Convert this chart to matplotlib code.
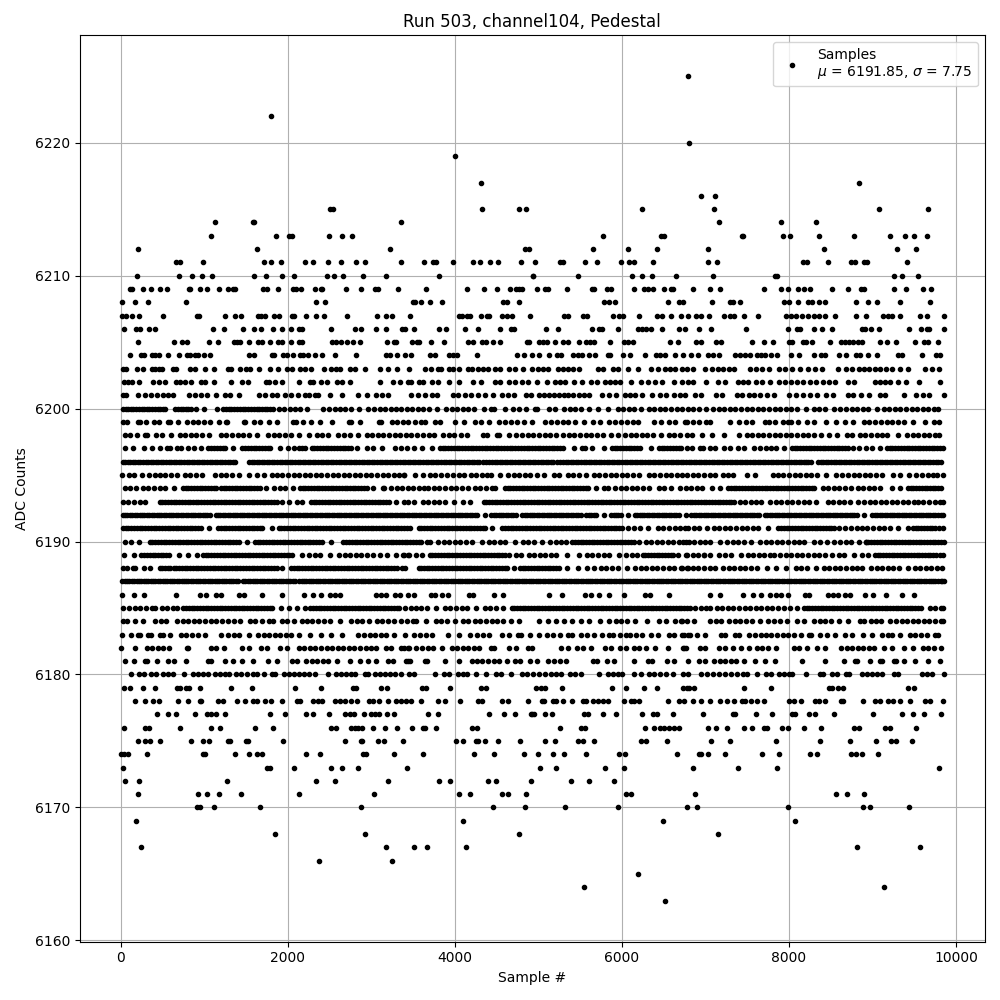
import numpy as np
import matplotlib
matplotlib.use("Agg")
import matplotlib.pyplot as plt

# Muestras, una lista por nivel de ADC
adc_6225 = [6792]
adc_6222 = [1796]
adc_6220 = [6804]
adc_6219 = [4004]
adc_6217 = [4316, 8844]
adc_6216 = [6948, 7116]
adc_6215 = [2500, 2540, 4328, 4772, 4856, 6240, 7104, 9084, 9660]
adc_6214 = [1124, 1580, 1600, 3356, 7164, 7908, 8328]
adc_6213 = [1076, 1856, 2012, 2044, 2492, 2648, 2768, 5772, 6468, 6500, 7440, 7452, 7932, 8016, 8364, 8784, 9216, 9384, 9492, 9648]
adc_6212 = [200, 1628, 3224, 4840, 4892, 5652, 6072, 6420, 7032, 8424, 9300, 9516]
adc_6211 = [660, 712, 980, 1712, 1796, 1916, 2204, 2300, 2480, 2636, 2816, 2924, 3356, 3632, 3740, 3776, 3980, 4220, 4304, 4424, 4520, 4796, 4964,
            5256, 5292, 5556, 5700, 5988, 6084, 6144, 6372, 7032, 7140, 8172, 8220, 8472, 8748, 8796, 8904, 8940, 9408]
adc_6210 = [188, 692, 848, 968, 1088, 1592, 1736, 1928, 2072, 2468, 2552, 2660, 2900, 3176, 3812, 4932, 4940, 5472, 6120, 6240, 6360, 6648, 7092,
            7836, 7860, 9264, 9348, 9540]
adc_6209 = [108, 140, 260, 356, 464, 548, 812, 828, 944, 1028, 1172, 1280, 1340, 1364, 1700, 1748, 1880, 2060, 2092, 2156, 2324, 2396, 2412, 2696,
            2876, 3044, 3084, 3320, 3656, 4148, 4352, 4508, 4664, 4736, 4772, 4808, 4980, 5076, 5112, 5340, 5640, 5664, 5820, 5868, 6144, 6264,
            6312, 6372, 6504, 6588, 6612, 6852, 7056, 7176, 7704, 7908, 7992, 8112, 8184, 8256, 8520, 8712, 8868, 8904, 9264, 9396, 9600, 9696]
adc_6208 = [20, 172, 320, 776, 2336, 2444, 3500, 3524, 3596, 3704, 3848, 4580, 4620, 4772, 5784, 5844, 5916, 6552, 6684, 6732, 7080, 7296, 7332,
            7416, 7944, 8004, 8104, 8232, 8276, 8364, 8436, 8808, 8952, 9060, 9324, 9684]
adc_6207 = [20, 60, 140, 212, 500, 908, 932, 1244, 1364, 1436, 1640, 1680, 1732, 1832, 1892, 2048, 2072, 2212, 2336, 2432, 2708, 3068, 3176, 3248,
            3464, 4052, 4080, 4148, 4180, 4316, 4388, 4412, 4568, 4620, 4688, 4904, 5304, 5352, 5532, 5580, 5892, 5964, 6012, 6204, 6420, 6480,
            6588, 6708, 6792, 6888, 6948, 7044, 7224, 7296, 7344, 7464, 7632, 7968, 8028, 8088, 8160, 8232, 8304, 8364, 8436, 8556, 8808, 8924,
            9132, 9192, 9232, 9324, 9564, 9648, 9852]
adc_6206 = [40, 180, 228, 332, 404, 1100, 1232, 1460, 1592, 1676, 1820, 1928, 2036, 2132, 2168, 2516, 2804, 2876, 3056, 3176, 3368, 3404, 3512,
            3812, 3896, 4124, 4280, 4544, 4676, 4712, 5088, 5232, 5640, 5724, 5760, 5952, 6192, 6240, 6288, 6348, 6480, 6684, 6756, 6924, 7068,
            7488, 7992, 8100, 8136, 8304, 8400, 8520, 8880, 8916, 8988, 9084, 9432, 9576, 9648, 9672, 9852]
adc_6205 = [200, 632, 728, 788, 1052, 1160, 1352, 1388, 1424, 1532, 1640, 1688, 1784, 1880, 1928, 2036, 2132, 2168, 2528, 2580, 2636, 2708, 2780,
            2864, 3188, 3272, 3296, 3488, 3548, 3572, 3716, 3868, 4160, 4220, 4328, 4376, 4460, 4544, 4860, 4892, 5004, 5052, 5100, 5196, 5292,
            5352, 5484, 5568, 5616, 5664, 5856, 6024, 6072, 6132, 6576, 6672, 6888, 6948, 7128, 7188, 7560, 7704, 7812, 8004, 8040, 8172, 8208,
            8280, 8496, 8628, 8676, 8724, 8772, 8832, 8880, 9096, 9180, 9288, 9504, 9612, 9660, 9780]
adc_6204 = [108, 236, 272, 368, 404, 452, 560, 692, 788, 824, 884, 920, 992, 1064, 1532, 1592, 1808, 1832, 1940, 1988, 2060, 2144, 2180, 2240, 2324,
            2408, 2564, 2816, 3176, 3224, 3308, 3404, 3476, 3704, 3768, 3932, 3980, 4020, 4268, 4748, 4832, 4928, 5004, 5124, 5220, 5268, 5412,
            5472, 5520, 5604, 5676, 5832, 5856, 6012, 6096, 6276, 6408, 6456, 6516, 6636, 6732, 6828, 6912, 7032, 7092, 7164, 7356, 7416, 7476,
            7536, 7620, 7668, 7716, 7788, 7860, 8028, 8124, 8304, 8388, 8436, 8604, 8688, 8808, 8856, 8952, 9060, 9312, 9348, 9588, 9756, 9804]
adc_6203 = [32, 68, 188, 260, 368, 404, 452, 488, 620, 656, 824, 884, 1004, 1112, 1280, 1316, 1424, 1496, 1544, 1652, 1784, 1880, 1988, 2048, 2144,
            2204, 2276, 2432, 2516, 2576, 2624, 2744, 2804, 2924, 3104, 3200, 3308, 3452, 3644, 3716, 3800, 3836, 3932, 3980, 4052, 4160, 4200,
            4280, 4340, 4400, 4480, 4540, 4652, 4724, 4820, 4928, 4992, 5052, 5112, 5232, 5292, 5352, 5412, 5484, 5712, 5772, 5892, 5952, 6072,
            6192, 6348, 6432, 6516, 6576, 6636, 6720, 6780, 6852, 6996, 7080, 7152, 7212, 7284, 7344, 7536, 7608, 7680, 7764, 7884, 7956, 8040,
            8136, 8232, 8316, 8400, 8592, 8688, 8760, 8844, 8904, 8964, 9036, 9096, 9168, 9240, 9324, 9420, 9624, 9708, 9792]
adc_6202 = [44, 92, 140, 212, 380, 452, 524, 656, 708, 764, 836, 956, 1004, 1112, 1316, 1448, 1520, 1736, 1772, 1844, 1928, 2132, 2264, 2300, 2396,
            2468, 2588, 2648, 2744, 3104, 3260, 3344, 3440, 3476, 3572, 3620, 3728, 3800, 3932, 4052, 4220, 4316, 4484, 4540, 4652, 4724, 4808,
            4880, 4980, 5100, 5196, 5256, 5316, 5424, 5520, 5628, 5700, 5796, 5856, 5916, 5976, 6108, 6228, 6312, 6396, 6480, 6624, 6720, 6792,
            6852, 7012, 7152, 7236, 7392, 7452, 7512, 7608, 7680, 7776, 7884, 7956, 8028, 8100, 8172, 8256, 8328, 8412, 8484, 8556, 8712, 8784,
            9036, 9096, 9156, 9216, 9312, 9396, 9552, 9804]
adc_6201 = [32, 68, 200, 284, 356, 428, 500, 560, 620, 812, 884, 956, 1028, 1136, 1244, 1304, 1412, 1652, 1724, 1808, 1868, 1964, 2036, 2120, 2204,
            2252, 2324, 2360, 2504, 2648, 2840, 2948, 3056, 3128, 3200, 3476, 3560, 3644, 3728, 3788, 3980, 4040, 4124, 4196, 4280, 4364, 4460,
            4568, 4640, 4712, 4852, 4908, 5004, 5064, 5124, 5184, 5244, 5304, 5352, 5412, 5484, 5544, 5604, 5760, 5844, 5928, 6036, 6096, 6156,
            6240, 6360, 6456, 6528, 6624, 6696, 6756, 6876, 6948, 7128, 7200, 7380, 7440, 7524, 7584, 7656, 7740, 7824, 8004, 8088, 8172, 8256,
            8340, 8448, 8532, 8712, 8772, 8868, 8964, 9096, 9156, 9372, 9516, 9600, 9672, 9852]
adc_6200 = [25, 58, 90, 120, 150, 182, 215, 248, 280, 310, 340, 375, 410, 440, 470, 502, 535, 645, 680, 715, 748, 780, 810, 840, 895, 995, 1150, 1225, 1258, 1290, 1325, 1360, 1392, 1425, 1458, 1490, 1525, 1560, 1592, 1625, 1658, 1690, 1722, 1755, 1790, 1825,
            1890, 1950, 2020, 2085, 2150, 2235, 2425, 2490, 2560, 2625, 2690, 2760, 2855, 2965, 3030, 3100, 3165, 3230, 3295, 3360, 3430, 3490, 3560,
            3620, 3690, 3785, 3895, 3960, 4030, 4095, 4160, 4230, 4345, 4435, 4465, 4596, 4700, 4765, 4852, 4960, 4985, 5130, 5195, 5310, 5375, 5440,
            5510, 5605, 5710, 5835, 5950, 6015, 6085, 6150, 6225, 6325, 6390, 6455, 6520, 6590, 6660, 6725, 6790, 6855, 6925, 7005, 7095, 7160, 7225,
            7295, 7360, 7430, 7495, 7560, 7630, 7695, 7760, 7830, 7895, 7960, 8030, 8095, 8200, 8295, 8360, 8430, 8540, 8615, 8680, 8750, 8815, 8885,
            8950, 9060, 9135, 9200, 9270, 9335, 9400, 9470, 9535, 9600, 9670, 9735, 9780]
adc_6199 = [25, 75, 200, 225, 305, 400, 455, 565, 595, 680, 790, 860, 930, 1000, 1070, 1170, 1255, 1275, 1470, 1490, 1600, 1665, 1770, 1865, 2060, 2095,
            2180, 2280, 2388, 2532, 2735, 2760, 2860, 3090, 3115, 3250, 3310, 3375, 3440, 3520, 3590, 3645, 3760, 3825, 4000, 4110, 4240, 4315, 4404,
            4530, 4600, 4670, 4745, 4830, 4925, 5080, 5150, 5220, 5290, 5360, 5435, 5545, 5650, 5735, 5850, 5920, 5995, 6060, 6130, 6195, 6380, 6465,
            6560, 6635, 6760, 6785, 6850, 6920, 7005, 7060, 7295, 7400, 7485, 7560, 7715, 7760, 7828, 7925, 7990, 8030, 8108, 8215, 8300, 8448, 8565,
            8670, 8768, 8895, 8960, 9030, 9100, 9170, 9240, 9310, 9380, 9480, 9628, 9735, 9800]
adc_6198 = [45, 115, 195, 285, 315, 425, 490, 600, 705, 770, 840, 905, 975, 1055, 1200, 1265, 1330, 1400, 1465, 1535, 1635, 1765, 1830, 1900, 1965, 2035,
            2135, 2250, 2345, 2410, 2475, 2605, 2670, 2740, 2835, 2945, 3010, 3075, 3145, 3210, 3280, 3345, 3410, 3480, 3550, 3620, 3685, 3755, 3860,
            3925, 3995, 4070, 4140, 4340, 4385, 4510, 4525, 4645, 4735, 4805, 4870, 4940, 5010, 5075, 5145, 5205, 5300, 5365, 5430, 5500, 5565, 5635,
            5700, 5770, 5865, 5952, 6040, 6105, 6170, 6240, 6305, 6370, 6465, 6560, 6625, 6695, 6785, 6840, 6955, 7080, 7225, 7400, 7495, 7560, 7625,
            7695, 7760, 7830, 7895, 7965, 8030, 8095, 8165, 8230, 8295, 8380, 8475, 8570, 8695, 8750, 8850, 8915, 8980, 9050, 9115, 9180, 9310, 9415,
            9480, 9550, 9615, 9680, 9750, 9800]
adc_6197 = [45, 145, 280, 375, 475, 555, 595, 675, 715, 810, 880, 955, 1050, 1115, 1185, 1250, 1345, 1455, 1520, 1590, 1655, 1725, 1790, 1905, 2005, 2075,
            2135, 2200, 2285, 2350, 2420, 2485, 2555, 2620, 2690, 2755, 2825, 2950, 3020, 3130, 3285, 3350, 3430, 3510, 3605, 3725, 3820, 3885, 3950,
            4020, 4085, 4155, 4220, 4290, 4355, 4420, 4490, 4555, 4625, 4690, 4755, 4825, 4890, 4960, 5025, 5090, 5160, 5225, 5295, 5425, 5520, 5555,
            5640, 5785, 5880, 5945, 6010, 6080, 6145, 6215, 6345, 6445, 6510, 6575, 6645, 6710, 6785, 6840, 6935, 6975, 7055, 7110, 7225, 7290, 7390,
            7460, 7585, 7650, 7720, 7785, 7850, 7940, 8035, 8100, 8165, 8235, 8300, 8370, 8435, 8505, 8570, 8635, 8705, 8770, 8840, 8920, 8995, 9095,
            9175, 9240, 9310, 9375, 9440, 9510, 9575, 9640, 9710, 9775, 9845,
            1082, 1150, 1218, 1488, 1555, 1622, 1690, 1758, 2168, 2318, 2385, 2452, 2520, 2588, 2655, 2722, 3852, 3918, 3985, 4052, 4120, 4188, 4255, 4322, 4388, 4455,
            4522, 4590, 4658, 4722, 4790, 4858, 4925, 4992, 5058, 5125, 5192, 5260, 5912, 5978, 6045, 6112, 6180, 6478, 6542, 6610, 6678, 8068, 8132, 8200, 8268, 8335,
            8402, 8470, 8538, 8602, 8670, 9208, 9275, 9342, 9408, 9475, 9542, 9608, 9675, 9742, 9810]
adc_6196 = [25, 85, 145, 205, 265, 330, 390, 450, 510, 575, 635, 695, 755, 820, 880, 940, 1000, 1065, 1125, 1185, 1245, 1310, 1370, 1535, 1595, 1660, 1720,
            1780, 1840, 1905, 1965, 2025, 2085, 2150, 2210, 2270, 2330, 2395, 2455, 2515, 2575, 2640, 2700, 2760, 2820, 2885, 2945, 3005, 3065, 3130,
            3190, 3250, 3310, 3375, 3435, 3495, 3555, 3620, 3680, 3740, 3800, 3865, 3925, 3985, 4045, 4110, 4170, 4230, 4290, 4375, 4445, 4505, 4570,
            4630, 4690, 4750, 4815, 4875, 4935, 4995, 5060, 5120, 5180, 5255, 5330, 5390, 5450, 5510, 5575, 5635, 5695, 5755, 5820, 5880, 5940, 6000,
            6065, 6125, 6185, 6245, 6310, 6370, 6430, 6490, 6555, 6615, 6675, 6735, 6800, 6860, 6920, 6980, 7045, 7105, 7165, 7225, 7290, 7350, 7410,
            7470, 7535, 7595, 7655, 7715, 7780, 7840, 7900, 7960, 8025, 8085, 8145, 8205, 8260, 8350, 8410, 8470, 8535, 8595, 8655, 8715, 8780, 8840,
            8900, 8960, 9025, 9085, 9145, 9205, 9270, 9330, 9390, 9450, 9515, 9575, 9635, 9695, 9760, 9820,
            55, 115, 175, 235, 298, 360, 420, 480, 542, 605, 665, 725, 788, 850, 910, 970, 1032, 1095, 1155, 1215, 1278, 1340, 1565, 1628, 1690, 1750, 1810, 1872, 1935,
            1995, 2055, 2118, 2180, 2240, 2300, 2362, 2425, 2485, 2545, 2608, 2670, 2730, 2790, 2852, 2915, 2975, 3035, 3098, 3160, 3220, 3280, 3342, 3405, 3465, 3525,
            3588, 3650, 3710, 3770, 3832, 3895, 3955, 4015, 4078, 4140, 4200, 4260, 4332, 4410, 4475, 4538, 4600, 4660, 4720, 4782, 4845, 4905, 4965, 5028, 5090, 5150,
            5218, 5292, 5360, 5420, 5480, 5542, 5605, 5665, 5725, 5788, 5850, 5910, 5970, 6032, 6095, 6155, 6215, 6278, 6340, 6400, 6460, 6522, 6585, 6645, 6705, 6768,
            6830, 6890, 6950, 7012, 7075, 7135, 7195, 7258, 7320, 7380, 7440, 7502, 7565, 7625, 7685, 7748, 7810, 7870, 7930, 7992, 8055, 8115, 8175, 8232, 8380, 8440,
            8502, 8565, 8625, 8685, 8748, 8810, 8870, 8930, 8992, 9055, 9115, 9175, 9238, 9300, 9360, 9420, 9482, 9545, 9605, 9665, 9728, 9790]
adc_6195 = [10, 95, 155, 250, 335, 405, 470, 535, 600, 670, 765, 830, 900, 975, 1130, 1195, 1260, 1330, 1410, 1535, 1635, 1712, 1805, 1870, 1935, 2005, 2070,
            2135, 2200, 2270, 2335, 2400, 2470, 2535, 2600, 2670, 2735, 2800, 2870, 2935, 3000, 3070, 3135, 3200, 3270, 3335, 3395, 3390, 3522, 3624, 3700,
            3765, 3830, 3900, 3975, 4050, 4105, 4190, 4255, 4320, 4390, 4435, 4538, 4640, 4705, 4770, 4840, 4905, 4985, 5072, 5190, 5245, 5350, 5415, 5485,
            5572, 5665, 5730, 5800, 5865, 5930, 6000, 6065, 6130, 6205, 6325, 6390, 6455, 6525, 6590, 6655, 6725, 6785, 6850, 6915, 6985, 7050, 7120, 7205,
            7270, 7335, 7495, 7590, 7805, 7870, 7935, 8005, 8070, 8135, 8205, 8270, 8335, 8440, 8565, 8630, 8710, 8775, 8840, 8910, 8975, 9040, 9110, 9248,
            9335, 9440, 9525, 9590, 9660, 9725, 9775, 9845]
adc_6194 = [45, 110, 185, 265, 330, 395, 465, 530, 635, 745, 810, 880, 945, 1010, 1080, 1145, 1195, 1265, 1330, 1395, 1465, 1530, 1595, 1665, 1735, 1840, 1905,
            1970, 2065, 2145, 2210, 2280, 2345, 2410, 2480, 2545, 2610, 2680, 2745, 2810, 2880, 2945, 3025, 3140, 3155, 3240, 3305, 3370, 3435, 3500, 3565,
            3635, 3675, 3750, 3815, 3885, 3950, 4015, 4085, 4155, 4240, 4305, 4370, 4440, 4485, 4600, 4665, 4730, 4800, 4865, 4930, 5000, 5065, 5130, 5200,
            5265, 5330, 5400, 5465, 5530, 5600, 5685, 5780, 5835, 5920, 5985, 6050, 6120, 6185, 6250, 6325, 6440, 6505, 6585, 6700, 6765, 6830, 6900, 6960,
            7075, 7175, 7275, 7340, 7405, 7475, 7540, 7605, 7675, 7740, 7805, 7875, 7940, 8005, 8075, 8140, 8205, 8275, 8300, 8405, 8470, 8540, 8605, 8670,
            8740, 8825, 8890, 8955, 9020, 9090, 9240, 9335, 9425, 9490, 9555, 9625, 9690, 9755, 9825,
            778, 845, 912, 978, 1045, 1112, 1230, 1298, 1362, 1430, 1498, 1562, 1630, 2178, 2245, 2312, 2378, 2445, 2512, 2578, 2645, 2712, 2778, 2845, 2912, 4632, 4698,
            4765, 4832, 4898, 4965, 5032, 5098, 5165, 5232, 5298, 5365, 5432, 5498, 5565, 7308, 7372, 7440, 7508, 7572, 7640, 7708, 7772, 7840, 7908, 7972, 8040, 8108, 8172,
            8240, 9462, 9522, 9590, 9658, 9722, 9790]
adc_6193 = [25, 90, 160, 225, 295, 465, 530, 600, 665, 730, 800, 865, 930, 1000, 1065, 1130, 1200, 1265, 1330, 1400, 1465, 1530, 1600, 1665, 1730, 1800, 1865, 1930,
            2015, 2105, 2165, 2275, 2340, 2410, 2475, 2540, 2610, 2675, 2740, 2810, 2875, 2940, 3010, 3075, 3140, 3210, 3295, 3385, 3440, 3510, 3615, 3680, 3750,
            3815, 3880, 3995, 4095, 4180, 4345, 4410, 4475, 4545, 4610, 4675, 4745, 4810, 4875, 4945, 5010, 5075, 5145, 5210, 5275, 5345, 5410, 5475, 5545, 5610,
            5675, 5745, 5810, 5875, 5945, 6010, 6075, 6145, 6210, 6275, 6345, 6410, 6475, 6545, 6610, 6675, 6745, 6810, 6880, 6945, 7010, 7080, 7145, 7210, 7280,
            7345, 7410, 7480, 7545, 7610, 7665, 7775, 7840, 7905, 7975, 8040, 8105, 8175, 8240, 8320, 8465, 8530, 8600, 8665, 8730, 8825, 8900, 8965, 9030, 9100,
            9165, 9230, 9300, 9365, 9430, 9500, 9545, 9610, 9680, 9745, 9810, 9850,
            498, 565, 632, 698, 765, 832, 898, 965, 1032, 1098, 1165, 1232, 1298, 1365, 1432, 1498, 1565, 1632, 1698, 1765, 1832, 2308, 2375, 2442, 2508, 2575, 2642, 2708,
            2775, 2842, 2908, 2975, 3042, 3108, 3175, 4378, 4442, 4510, 4578, 4642, 4710, 4778, 4842, 4910, 4978, 5042, 5110, 5178, 5242, 5310, 5378, 5442, 5510, 5578, 5642,
            5710, 5778, 5842, 5910, 5978, 6042, 6110, 6178, 6242, 6310, 6378, 6442, 6510, 6578, 6642, 6710, 6778, 6845, 6912, 6978, 7045, 7112, 7178, 7245, 7312]
adc_6192 = [25, 80, 140, 195, 255, 310, 370, 430, 485, 545, 600, 660, 720, 775, 835, 890, 950, 1010, 1065, 1135, 1190, 1250, 1310, 1365, 1425, 1480, 1540, 1600, 1655,
            1715, 1770, 1830, 1890, 1945, 2005, 2060, 2120, 2180, 2235, 2295, 2350, 2410, 2470, 2525, 2585, 2640, 2700, 2760, 2815, 2875, 2930, 2990, 3050, 3105,
            3165, 3220, 3280, 3340, 3395, 3455, 3510, 3570, 3630, 3685, 3745, 3800, 3860, 3920, 3975, 4035, 4090, 4150, 4210, 4265, 4365, 4435, 4495, 4555, 4610,
            4670, 4730, 4805, 4865, 4925, 4980, 5040, 5100, 5155, 5215, 5270, 5330, 5390, 5445, 5505, 5575, 5635, 5695, 5785, 5870, 5930, 5985, 6075, 6155, 6215,
            6270, 6330, 6390, 6445, 6505, 6560, 6620, 6680, 6765, 6830, 6890, 6950, 7005, 7065, 7120, 7180, 7240, 7295, 7355, 7410, 7470, 7530, 7585, 7640, 7710,
            7770, 7830, 7885, 7945, 8000, 8060, 8120, 8175, 8235, 8290, 8350, 8410, 8465, 8525, 8580, 8640, 8700, 8755, 8815, 8900, 9000, 9060, 9115, 9175, 9235,
            9290, 9350, 9405, 9465, 9525, 9580, 9640, 9695, 9755, 9815, 9850,
            52, 110, 168, 225, 282, 340, 400, 458, 515, 572, 630, 690, 748, 805, 862, 920, 980, 1038, 1162, 1220, 1280, 1338, 1395, 1452, 1510, 1570, 1628, 1685, 1742, 1800, 1860,
            1918, 1975, 2032, 2090, 2150, 2208, 2265, 2322, 2380, 2440, 2498, 2555, 2612, 2670, 2730, 2788, 2845, 2902, 2960, 3020, 3078, 3135, 3192, 3250, 3310, 3368, 3425,
            3482, 3540, 3600, 3658, 3715, 3772, 3830, 3890, 3948, 4005, 4062, 4120, 4180, 4238, 4465, 4525, 4582, 4640, 4700, 4835, 4895, 4952, 5010, 5070, 5128, 5185, 5242,
            5300, 5360, 5418, 5475, 5605, 5665, 5900, 5958, 6185, 6242, 6300, 6360, 6418, 6475, 6532, 6590, 6650, 6860, 6920, 6978, 7035, 7092, 7150, 7210, 7268, 7325, 7382,
            7440, 7500, 7558, 7612, 7740, 7800, 7858, 7915, 7972, 8030, 8090, 8148, 8205, 8262, 8320, 8380, 8438, 8495, 8552, 8610, 8670, 8728, 8785, 9030, 9088, 9145, 9205,
            9262, 9320, 9378, 9435, 9495, 9552, 9610, 9668, 9725, 9785]
adc_6191 = [25, 90, 160, 225, 290, 360, 425, 490, 560, 625, 690, 760, 825, 890, 960, 1055, 1165, 1230, 1295, 1365, 1430, 1495, 1565, 1630, 1695, 1815, 1890, 1955, 2025,
            2090, 2155, 2225, 2290, 2355, 2425, 2490, 2555, 2625, 2690, 2755, 2825, 2890, 2955, 3025, 3090, 3155, 3225, 3290, 3355, 3425, 3460, 3565, 3630, 3700, 3765,
            3830, 3900, 3965, 4030, 4100, 4165, 4230, 4300, 4365, 4445, 4570, 4635, 4700, 4770, 4835, 4900, 4970, 5035, 5100, 5170, 5235, 5300, 5370, 5435, 5500, 5570,
            5635, 5700, 5770, 5835, 5900, 5970, 6075, 6145, 6220, 6315, 6430, 6495, 6560, 6630, 6695, 6760, 6790, 6860, 6925, 7015, 7100, 7165, 7235, 7300, 7365, 7435,
            7500, 7565, 7635, 7750, 7875, 7940, 8005, 8075, 8140, 8205, 8275, 8340, 8405, 8475, 8540, 8595, 8675, 8740, 8810, 8875, 8940, 9010, 9075, 9140, 9210, 9310,
            9420, 9485, 9550, 9620, 9685, 9750, 9840,
            58, 125, 192, 258, 325, 392, 458, 525, 592, 658, 725, 792, 858, 925, 1198, 1262, 1330, 1398, 1462, 1530, 1598, 1662, 1922, 1990, 2058, 2122, 2190, 2258, 2322, 2390,
            2458, 2522, 2590, 2658, 2722, 2790, 2858, 2922, 2990, 3058, 3122, 3190, 3258, 3322, 3390, 3598, 3665, 3732, 3798, 3865, 3932, 3998, 4065, 4132, 4198, 4265, 4332,
            4602, 4668, 4735, 4802, 4868, 4935, 5002, 5068, 5135, 5202, 5268, 5335, 5402, 5468, 5535, 5602, 5668, 5735, 5802, 5868, 5935, 6002, 7908, 7972, 8040, 8108, 8172, 8240,
            8308, 8372, 8440, 8508, 9518, 9585, 9652, 9718, 9795]
adc_6190 = [55, 125, 215, 345, 410, 480, 545, 610, 680, 745, 810, 880, 945, 1010, 1080, 1145, 1210, 1280, 1345, 1410, 1515, 1605, 1670, 1740, 1805, 1870, 1940, 2005, 2070,
            2140, 2205, 2270, 2340, 2405, 2515, 2665, 2730, 2800, 2865, 2930, 3000, 3065, 3130, 3200, 3265, 3330, 3400, 3465, 3530, 3600, 3665, 3705, 3800, 3865, 3930, 4000,
            4065, 4130, 4200, 4325, 4405, 4470, 4535, 4605, 4725, 4810, 4875, 4945, 5045, 5140, 5205, 5275, 5325, 5405, 5470, 5540, 5605, 5670, 5740, 5805, 5870, 5940, 6005,
            6070, 6140, 6205, 6285, 6350, 6415, 6485, 6550, 6615, 6685, 6765, 6735, 6800, 6865, 6935, 7000, 7060, 7172, 7260, 7325, 7395, 7460, 7540, 7655, 7720, 7785, 7855,
            7920, 7985, 8055, 8120, 8180, 8305, 8370, 8460, 8545, 8610, 8680, 8745, 8840, 8920, 8985, 9055, 9120, 9185, 9255, 9320, 9385, 9455, 9520, 9585, 9655, 9720, 9785, 9855,
            378, 445, 512, 578, 645, 712, 778, 845, 912, 978, 1045, 1112, 1178, 1245, 1312, 1378, 1638, 1705, 1772, 1838, 1905, 1972, 2038, 2105, 2172, 2238, 2305, 2372, 2698, 2765,
            2832, 2898, 2965, 3032, 3098, 3165, 3232, 3298, 3365, 3432, 3498, 3565, 5438, 5505, 5572, 5638, 5705, 5772, 5838, 5905, 5972, 6038, 6105, 8920, 8952, 9020, 9088, 9152,
            9220, 9288, 9352, 9420, 9488, 9552, 9620, 9688, 9752, 9820]
adc_6189 = [35, 155, 245, 310, 380, 445, 510, 575, 695, 800, 912, 985, 1050, 1120, 1185, 1250, 1320, 1385, 1450, 1520, 1585, 1650, 1720, 1785, 1850, 1920, 1985, 2050, 2170,
            2255, 2320, 2390, 2505, 2615, 2680, 2750, 2815, 2880, 2950, 3015, 3105, 3190, 3295, 3385, 3440, 3380, 3450, 3530, 3605, 3700, 3765, 3830, 3900, 3965, 4030, 4100,
            4165, 4230, 4300, 4365, 4430, 4500, 4565, 4645, 4730, 4795, 4885, 4950, 5015, 5085, 5150, 5215, 5345, 5488, 5580, 5645, 5715, 5780, 5845, 5965, 6050, 6115, 6185, 6250,
            6315, 6385, 6450, 6515, 6585, 6675, 6772, 6785, 6850, 6915, 6985, 7050, 7160, 7240, 7305, 7430, 7505, 7570, 7640, 7705, 7770, 7825, 7895, 7960, 8030, 8095, 8160,
            8230, 8295, 8360, 8430, 8510, 8600, 8665, 8775, 8875, 8950, 9030, 9095, 9160, 9230, 9295, 9360, 9430, 9495, 9560, 9630, 9695, 9760, 9850,
            278, 345, 412, 478, 545, 1018, 1085, 1152, 1218, 1285, 1352, 1418, 1485, 1552, 1618, 1685, 1752, 1818, 1885, 1952, 2018, 3732, 3798, 3865, 3932, 3998, 4065, 4132, 4198,
            4265, 4332, 4398, 4465, 4532, 4598, 6282, 6348, 6415, 6482, 6548, 6612, 6985, 9062, 9128, 9195, 9262, 9328, 9395, 9462, 9528, 9595, 9662, 9728, 9805]
adc_6188 = [25, 75, 145, 175, 275, 355, 465, 530, 595, 665, 730, 795, 865, 930, 995, 1065, 1130, 1195, 1265, 1330, 1395, 1465, 1530, 1595, 1665, 1730, 1795, 1865, 1925, 2040,
            2105, 2170, 2240, 2305, 2370, 2440, 2505, 2570, 2640, 2705, 2770, 2840, 2905, 2970, 3040, 3105, 3170, 3240, 3305, 3370, 3405, 3565, 3630, 3695, 3765, 3830, 3895,
            3965, 4030, 4095, 4165, 4230, 4295, 4365, 4430, 4495, 4565, 4630, 4705, 4780, 4845, 4910, 4980, 5045, 5110, 5180, 5245, 5345, 5480, 5585, 5664, 5750, 5815, 5880, 5950,
            6065, 6160, 6225, 6290, 6360, 6425, 6490, 6560, 6625, 6705, 6790, 6715, 6780, 6850, 6915, 6980, 7050, 7120, 7215, 7280, 7345, 7415, 7480, 7545, 7615, 7740, 7848, 7968,
            8085, 8150, 8215, 8320, 8415, 8480, 8550, 8615, 8680, 8750, 8815, 8880, 8985, 9050, 9115, 9185, 9250, 9315, 9420, 9505, 9570, 9640, 9705, 9770, 9830,
            498, 565, 632, 698, 765, 832, 898, 965, 1032, 1098, 1165, 1232, 1298, 1365, 1432, 1498, 1565, 1632, 1698, 1765, 1832, 2072, 2138, 2205, 2272, 2338, 2405, 2472, 2538, 2605,
            2672, 2738, 2805, 2872, 2938, 3005, 3072, 3138, 3205, 3272, 3598, 3662, 3730, 3798, 3862, 3930, 3998, 4062, 4130, 4198, 4262, 4330, 4398, 4462, 4530, 4598, 4812, 4878,
            4945, 5012, 5078, 5145, 5212]
adc_6187 = [20, 75, 130, 190, 245, 300, 360, 415, 470, 530, 585, 640, 700, 755, 810, 870, 925, 980, 1040, 1095, 1150, 1210, 1265, 1320, 1375, 1465, 1520, 1580, 1635, 1690, 1750,
            1805, 1860, 1920, 1975, 2030, 2090, 2165, 2220, 2275, 2335, 2390, 2445, 2505, 2560, 2615, 2675, 2730, 2785, 2845, 2900, 2955, 3015, 3070, 3125, 3185, 3240, 3295, 3355,
            3410, 3465, 3525, 3580, 3635, 3695, 3750, 3805, 3865, 3920, 3975, 4035, 4090, 4145, 4205, 4260, 4315, 4375, 4430, 4485, 4545, 4600, 4655, 4715, 4770, 4825, 4885, 4940,
            4995, 5055, 5110, 5165, 5225, 5280, 5335, 5395, 5450, 5505, 5565, 5620, 5675, 5735, 5790, 5845, 5905, 5960, 6015, 6075, 6130, 6185, 6245, 6300, 6355, 6415, 6470, 6525,
            6585, 6640, 6695, 6755, 6810, 6865, 6925, 6980, 7035, 7095, 7150, 7205, 7265, 7320, 7375, 7435, 7490, 7545, 7605, 7660, 7715, 7775, 7830, 7885, 7945, 8000, 8055, 8115,
            8170, 8225, 8285, 8340, 8395, 8455, 8510, 8565, 8625, 8680, 8735, 8795, 8850, 8905, 8965, 9020, 9075, 9135, 9190, 9245, 9305, 9360, 9415, 9475, 9530, 9585, 9645, 9700,
            9755, 9815, 9852,
            48, 103, 160, 218, 272, 330, 388, 443, 500, 558, 612, 670, 728, 782, 840, 898, 952, 1010, 1068, 1122, 1180, 1238, 1292, 1348, 1405, 1492, 1550, 1608, 1662, 1720, 1778, 1832,
            1890, 1948, 2002, 2060, 2128, 2192, 2248, 2305, 2362, 2418, 2475, 2532, 2588, 2645, 2702, 2758, 2815, 2872, 2928, 2985, 3042, 3098, 3155, 3212, 3268, 3325, 3382, 3438, 3495,
            3552, 3608, 3665, 3722, 3778, 3835, 3892, 3948, 4005, 4062, 4118, 4175, 4232, 4288, 4345, 4402, 4458, 4515, 4572, 4628, 4685, 4742, 4798, 4855, 4912, 4968, 5025, 5082, 5138,
            5195, 5252, 5308, 5365, 5422, 5478, 5535, 5592, 5648, 5705, 5762, 5818, 5875, 5932, 5988, 6045, 6102, 6158, 6215, 6272, 6328, 6385, 6442, 6498, 6555, 6612, 6668, 6725, 6782,
            6838, 6895, 6952, 7008, 7065, 7122, 7178, 7235, 7292, 7348, 7405, 7462, 7518, 7575, 7632, 7688, 7745, 7802, 7858, 7915, 7972, 8028, 8085, 8142, 8198, 8255, 8312, 8368, 8425,
            8482, 8538, 8595, 8652, 8708, 8765, 8822, 8878, 8935, 8992, 9048, 9105, 9162, 9218, 9275, 9332, 9388, 9445, 9502, 9558, 9615, 9672, 9728, 9785, 9835]
adc_6186 = [20, 160, 272, 656, 948, 1020, 1140, 1200, 1420, 1480, 1688, 1928, 2192, 2300, 2400, 2500, 2560, 2620, 3060, 3120, 3180, 3280, 3340, 3440, 3512, 3712, 3764, 3844,
            3912, 4164, 4220, 4472, 4580, 5132, 5280, 5560, 5632, 5720, 5840, 6020, 6272, 6340, 6564, 7056, 7176, 7448, 7568, 7668, 7768, 7848, 7908, 7988, 8188, 8240, 8468, 8530,
            8588, 8668, 8728, 8908, 9008, 9168, 9356, 9500]
adc_6185 = [25, 95, 165, 235, 300, 370, 415, 490, 555, 620, 675, 750, 815, 880, 950, 1015, 1080, 1150, 1215, 1280, 1350, 1415, 1480, 1550, 1615, 1680, 1750, 1815, 1920, 2010, 2110,
            2200, 2270, 2335, 2400, 2470, 2535, 2600, 2670, 2735, 2800, 2870, 2935, 3000, 3070, 3135, 3200, 3270, 3335, 3400, 3470, 3535, 3600, 3670, 3775, 3880, 3945, 4015, 4080,
            4145, 4255, 4360, 4425, 4490, 4575, 4680, 4745, 4810, 4880, 4945, 5010, 5080, 5145, 5210, 5280, 5345, 5410, 5480, 5545, 5610, 5680, 5745, 5810, 5880, 5945, 6010, 6080,
            6145, 6210, 6280, 6345, 6410, 6480, 6545, 6610, 6680, 6745, 6810, 6880, 6945, 7010, 7060, 7135, 7200, 7270, 7335, 7400, 7470, 7535, 7600, 7670, 7735, 7800, 7870, 7940,
            8015, 8100, 8180, 8245, 8310, 8380, 8445, 8510, 8580, 8645, 8710, 8780, 8845, 8910, 8980, 9045, 9110, 9180, 9245, 9310, 9380, 9445, 9510, 9580, 9685, 9750, 9815, 9850,
            782, 848, 915, 982, 1048, 1115, 1182, 1248, 1315, 1382, 1448, 1515, 1582, 1648, 1715, 1782, 2302, 2368, 2435, 2502, 2568, 2635, 2702, 2768, 2835, 2902, 2968, 3035, 3102,
            3168, 3235, 3302, 4712, 4778, 4845, 4912, 4978, 5045, 5112, 5178, 5245, 5312, 5378, 5445, 5512, 5578, 5645, 5712, 5778, 5845, 5912, 5978, 6045, 6112, 6178, 6245, 6312,
            6378, 6445, 6512, 6578, 6645, 6712, 6778, 8212, 8278, 8345, 8412, 8478, 8545, 8612, 8678, 8745, 8812, 8878, 8945, 9012, 9078, 9145, 9212, 9278, 9345, 9412, 9478, 9545]
adc_6184 = [25, 75, 175, 265, 415, 480, 545, 675, 740, 810, 875, 940, 1010, 1075, 1140, 1210, 1285, 1350, 1425, 1545, 1610, 1695, 1775, 1825, 1925, 1995, 2076, 2165, 2230, 2295, 2365,
            2430, 2505, 2620, 2760, 2825, 2890, 2975, 3065, 3130, 3195, 3275, 3360, 3430, 3495, 3540, 3660, 3770, 3835, 3900, 4000, 4095, 4152, 4240, 4305, 4370, 4440, 4505, 4580,
            4670, 4765, 5010, 5115, 5205, 5310, 5405, 5510, 5605, 5740, 5844, 5925, 5995, 6065, 6160, 6300, 6440, 6525, 6640, 6705, 6785, 6715, 6860, 7055, 7130, 7190, 7285, 7350,
            7420, 7490, 7555, 7655, 7755, 7820, 7890, 7980, 8095, 8175, 8300, 8370, 8435, 8505, 8605, 8708, 8850, 8895, 8985, 9040, 9108, 9215, 9280, 9350, 9415, 9480, 9550, 9615,
            9680, 9750, 9815, 9850]
adc_6183 = [12, 120, 200, 225, 320, 365, 465, 505, 588, 720, 785, 850, 920, 1005, 1200, 1285, 1350, 1420, 1535, 1645, 1710, 1775, 1845, 1910, 1975, 2035, 2132, 2260, 2400, 2520, 2648,
            2845, 2910, 2980, 3045, 3110, 3180, 3275, 3400, 3515, 3580, 3650, 3725, 3912, 4044, 4184, 4270, 4340, 4405, 4560, 4645, 4760, 4795, 4900, 5012, 5105, 5175, 5255, 5360,
            5405, 5510, 5580, 5665, 5764, 5844, 5892, 5972, 6052, 6100, 6170, 6235, 6345, 6432, 6560, 6625, 6740, 6790, 6715, 6820, 6895, 7000, 7190, 7240, 7355, 7400, 7525, 7590,
            7660, 7725, 7790, 7860, 7925, 7990, 8060, 8140, 8235, 8260, 8368, 8456, 8556, 8675, 8760, 8885, 8990, 9115, 9185, 9240, 9335, 9445, 9510, 9580, 9648, 9745, 9790]
adc_6182 = [0, 172, 310, 375, 445, 510, 575, 790, 805, 1080, 1145, 1240, 1455, 1535, 1680, 1745, 1910, 1985, 2130, 2195, 2265, 2330, 2395, 2465, 2530, 2595, 2665, 2730, 2795, 2865,
            2930, 2995, 3055, 3170, 3235, 3390, 3435, 3360, 3445, 3540, 3605, 3675, 3740, 3845, 3960, 4025, 4095, 4160, 4225, 4284, 4430, 4465, 4652, 4732, 4870, 4925, 5272, 5352,
            5465, 5535, 5635, 5800, 5865, 5980, 6055, 6140, 6205, 6285, 6400, 6552, 6740, 6765, 6735, 6935, 6990, 7165, 7230, 7325, 7425, 7520, 7615, 7680, 7750, 7840, 8055, 8120,
            8215, 8335, 8430, 8625, 8690, 8755, 8825, 8890, 8955, 9020, 9135, 9240, 9375, 9480, 9605, 9670, 9740, 9820]
adc_6181 = [45, 155, 285, 315, 428, 560, 635, 780, 1045, 1085, 1245, 1345, 1455, 1585, 1760, 1872, 2045, 2110, 2215, 2285, 2350, 2420, 2485, 2585, 2740, 2865, 2955, 3052, 3200, 3255,
            3420, 3440, 3460, 3645, 3665, 3880, 4044, 4200, 4265, 4330, 4400, 4465, 4530, 4625, 4715, 4785, 4900, 4985, 5120, 5185, 5255, 5325, 5655, 5700, 5820, 5905, 6150, 6315,
            6355, 6540, 6625, 6788, 6925, 7000, 7105, 7170, 7240, 7305, 7370, 7460, 7588, 7715, 7830, 8156, 8435, 8656, 8795, 8820, 8976, 9085, 9120, 9255, 9280, 9376, 9508, 9668, 9808]
adc_6180 = [128, 220, 272, 356, 416, 500, 560, 620, 752, 860, 920, 980, 1040, 1124, 1184, 1244, 1292, 1376, 1436, 1508, 1580, 1628, 1712, 1808, 1844, 1952, 2012, 2072, 2132, 2192, 2252,
            2324, 2480, 2576, 2636, 2696, 2756, 2804, 2924, 2960, 3044, 3104, 3164, 3224, 3284, 3352, 3452, 3512, 3764, 3872, 3932, 4040, 4100, 4148, 4256, 4372, 4496, 4548, 4676,
            4808, 4868, 4932, 5004, 5076, 5148, 5208, 5268, 5376, 5436, 5508, 5724, 5832, 5892, 5952, 6000, 6144, 6228, 6324, 6384, 6456, 6528, 6612, 6732, 6792, 6948, 7020, 7092,
            7164, 7236, 7308, 7380, 7452, 7500, 7620, 7728, 7788, 7884, 7944, 8004, 8040, 8208, 8376, 8412, 8520, 8580, 8688, 8724, 8880, 8940, 9000, 9060, 9120, 9264, 9312, 9588,
            9648, 9708, 9852]
adc_6179 = [40, 108, 260, 404, 668, 704, 776, 812, 944, 1316, 1568, 2084, 2396, 2780, 2816, 3116, 3188, 3608, 3656, 3944, 4316, 4376, 4976, 5028, 5076, 5280, 5880, 6048, 6264, 6420,
            6732, 6780, 6804, 6864, 7464, 7788, 8484, 8520, 8592, 8652, 9420, 9492]
adc_6178 = [164, 284, 380, 452, 680, 800, 944, 960, 1160, 1220, 1388, 1484, 1580, 1628, 1724, 1796, 1928, 2108, 2140, 2300, 2360, 2408, 2564, 2620, 2680, 2756, 2828, 2972, 3020, 3092,
            3200, 3296, 3360, 3420, 3480, 3592, 3800, 3884, 4064, 4280, 4328, 4568, 4640, 4880, 5040, 5064, 5172, 5208, 5292, 5400, 5532, 5568, 5652, 5712, 5772, 5832, 6024, 6108,
            6144, 6204, 6552, 6684, 6744, 6852, 6948, 7056, 7176, 7260, 7344, 7440, 7476, 7548, 7612, 7704, 8004, 8064, 8148, 8316, 8364, 8436, 8628, 8652, 8892, 9036, 9096, 9192,
            9252, 9324, 9444, 9624, 9684, 9840]
adc_6177 = [428, 560, 656, 884, 1028, 1076, 1136, 1244, 1784, 1964, 2216, 2300, 2492, 2684, 2744, 2792, 2912, 2996, 3044, 3092, 3188, 3272, 3680, 3800, 4412, 4592, 4724, 4916, 4920,
            4952, 5076, 5160, 5544, 5592, 5772, 5928, 6240, 6372, 6420, 6612, 6972, 7332, 7356, 7608, 7800, 8040, 8076, 8244, 8316, 8544, 9012, 9348, 9480, 9612, 9816]
adc_6176 = [44, 284, 332, 704, 1076, 1184, 1604, 1820, 2516, 2576, 2756, 2804, 2840, 2888, 3020, 3164, 3308, 3488, 3620, 3644, 3776, 4208, 4268, 5256, 5508, 5556, 6276, 6384, 6456, 6504,
            6564, 6624, 6684, 7032, 7128, 7260, 7464, 7560, 7704, 7740, 7920, 7992, 8184, 8388, 8784, 8844, 9156, 9216, 9516]
adc_6175 = [200, 284, 344, 464, 836, 980, 1052, 1280, 1304, 1496, 1520, 1940, 2684, 2876, 2888, 3080, 3152, 3376, 4016, 4100, 4256, 4280, 4364, 4520, 4784, 5076, 5196, 5472, 5532, 5664,
            6228, 6288, 6540, 7068, 7296, 7848, 8376, 8736, 9048, 9228, 9288, 9472]
adc_6174 = [8, 44, 92, 308, 980, 1004, 1372, 1532, 1628, 1688, 2216, 2384, 2900, 2936, 3272, 3620, 4232, 4472, 4832, 5000, 5172, 5304, 5568, 5964, 6036, 6660, 6924, 6948, 7032, 7236, 7680,
            7884, 8256, 8340, 8748, 8808, 8880, 9072]
adc_6173 = [32, 1748, 1784, 2072, 2516, 2648, 2840, 3428, 5020, 5208, 5796, 6024, 6852, 7392, 7860, 9792]
adc_6172 = [56, 212, 1268, 2336, 2564, 3200, 3812, 3944, 4400, 4496, 4916, 5388, 5604, 5904]
adc_6171 = [200, 920, 1028, 1172, 1436, 2132, 3032, 4052, 4184, 4568, 4640, 4856, 6048, 6108, 6876, 8568, 8700, 8904]
adc_6170 = [908, 944, 1112, 1664, 2876, 4460, 4844, 5316, 5952, 6780, 6900, 7992, 8892, 8976, 9432]
adc_6169 = [176, 4100, 6492, 8076]
adc_6168 = [1844, 2924, 4772, 7152]
adc_6167 = [236, 3176, 3512, 3668, 4136, 8820, 9564]
adc_6166 = [2372, 3248]
adc_6165 = [6192]
adc_6164 = [5544, 9144]
adc_6163 = [6516]

niveles = [6225, 6222, 6220, 6219, 6217, 6216, 6215, 6214, 6213, 6212, 6211, 6210, 6209, 6208, 6207, 6206, 6205, 6204, 6203, 6202, 6201,
           6200, 6199, 6198, 6197, 6196, 6195, 6194, 6193, 6192, 6191, 6190, 6189, 6188, 6187, 6186, 6185, 6184, 6183, 6182, 6181, 6180,
           6179, 6178, 6177, 6176, 6175, 6174, 6173, 6172, 6171, 6170, 6169, 6168, 6167, 6166, 6165, 6164, 6163]
muestras = [adc_6225, adc_6222, adc_6220, adc_6219, adc_6217, adc_6216, adc_6215, adc_6214, adc_6213, adc_6212, adc_6211, adc_6210, adc_6209,
            adc_6208, adc_6207, adc_6206, adc_6205, adc_6204, adc_6203, adc_6202, adc_6201, adc_6200, adc_6199, adc_6198, adc_6197, adc_6196,
            adc_6195, adc_6194, adc_6193, adc_6192, adc_6191, adc_6190, adc_6189, adc_6188, adc_6187, adc_6186, adc_6185, adc_6184, adc_6183,
            adc_6182, adc_6181, adc_6180, adc_6179, adc_6178, adc_6177, adc_6176, adc_6175, adc_6174, adc_6173, adc_6172, adc_6171, adc_6170,
            adc_6169, adc_6168, adc_6167, adc_6166, adc_6165, adc_6164, adc_6163]

X = np.concatenate([np.array(m, dtype=float) for m in muestras])
Y = np.concatenate([np.full(len(m), n) for n, m in zip(niveles, muestras)])

plt.figure(figsize=(10, 10))
plt.plot(X, Y, "k.", label="Samples\n$\\mu$ = 6191.85, $\\sigma$ = 7.75")
plt.title("Run 503, channel104, Pedestal")
plt.xlabel("Sample #")
plt.ylabel("ADC Counts")
plt.ticklabel_format(useOffset=False, style="plain")
plt.grid(True)
plt.legend(loc="upper right")
plt.tight_layout()
plt.subplots_adjust(top=0.965)
plt.savefig("out.png", dpi=100)
